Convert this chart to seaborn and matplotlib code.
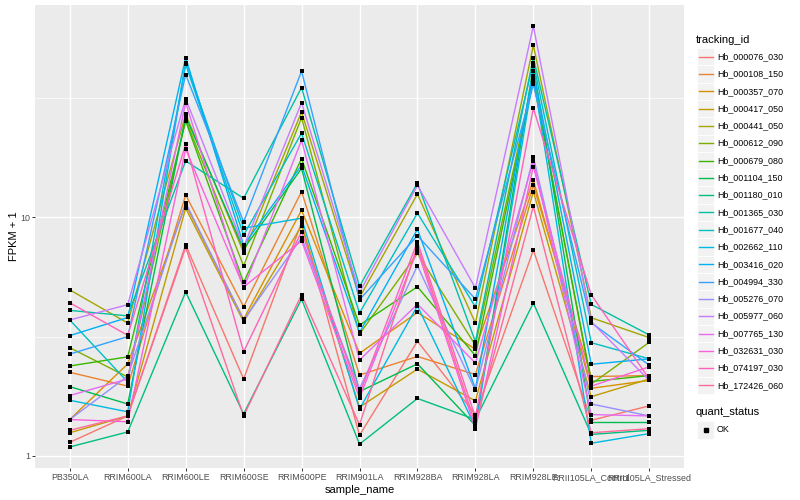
import numpy as np
import pandas as pd
import matplotlib
matplotlib.use("Agg")
import matplotlib.pyplot as plt
import seaborn as sns
from matplotlib.ticker import FixedLocator, FixedFormatter, NullFormatter
from matplotlib.patches import Rectangle
from matplotlib.lines import Line2D

# ---------------- data ----------------
sample_names = ["PB350LA", "RRIM600LA", "RRIM600LE", "RRIM600SE", "RRIM600PE",
                "RRIM901LA", "RRIM928BA", "RRIM928LA", "RRIM928LE",
                "RRII105LA_Control", "RRII105LA_Stressed"]

tracking_ids = ["Hb_000076_030", "Hb_000108_150", "Hb_000357_070", "Hb_000417_050",
                "Hb_000441_050", "Hb_000612_090", "Hb_000679_080", "Hb_001104_150",
                "Hb_001180_010", "Hb_001365_030", "Hb_001677_040", "Hb_002662_110",
                "Hb_003416_020", "Hb_004994_330", "Hb_005276_070", "Hb_005977_060",
                "Hb_007765_130", "Hb_032631_030", "Hb_074197_030", "Hb_172426_060"]

# FPKM + 1 per sample, in tracking_ids order
pb350la   = [1.14, 2.24, 1.42, 1.25, 4.96, 2.84, 2.38, 1.95, 1.09, 4.07, 3.71, 1.71, 3.19, 2.67, 1.42, 3.71, 1.79, 1.42, 4.38, 1.28]
rrim600la = [1.47, 1.96, 2.43, 1.47, 3.60, 2.14, 2.60, 1.65, 1.26, 3.86, 2.04, 1.53, 3.80, 3.16, 2.16, 4.30, 2.10, 1.39, 3.20, 1.47]
rrim600le = [7.66, 12.4, 11.3, 10.9, 27.0, 25.7, 25.3, 26.4, 4.86, 17.2, 43.7, 44.4, 46.6, 39.6, 11.5, 31.4, 30.2, 19.3, 20.2, 7.47]
rrim600se = [2.10, 4.22, 3.74, 3.65, 7.11, 6.25, 5.33, 7.35, 1.50, 12.0, 8.41, 9.00, 7.63, 9.56, 3.70, 7.50, 5.03, 5.10, 2.73, 1.47]
rrim600pe = [9.50, 12.8, 10.7, 9.20, 27.6, 26.1, 17.6, 16.0, 4.54, 34.9, 22.5, 9.90, 16.5, 40.9, 8.20, 30.2, 21.0, 7.96, 8.70, 4.73]
rrim901la = [1.22, 2.18, 2.69, 1.60, 4.61, 3.24, 3.53, 1.86, 1.12, 5.13, 3.97, 1.57, 3.29, 4.51, 1.91, 4.84, 2.52, 1.75, 1.82, 1.35]
rrim928ba = [3.02, 2.61, 3.99, 2.31, 12.5, 7.05, 5.11, 2.43, 1.74, 13.9, 10.4, 4.25, 8.90, 8.36, 6.26, 13.6, 4.32, 7.30, 7.89, 7.59]
rrim928la = [1.49, 2.19, 2.80, 1.70, 3.60, 2.91, 2.63, 1.34, 1.42, 3.01, 4.21, 1.32, 1.91, 4.54, 1.88, 5.05, 2.45, 1.30, 1.45, 1.36]
rrim928le = [7.28, 13.6, 14.3, 12.8, 52.5, 38.4, 37.2, 42.9, 4.37, 46.6, 44.4, 39.0, 41.0, 36.0, 17.9, 63.2, 17.2, 16.3, 28.6, 11.1]
rrii105la_control  = [1.41, 2.15, 1.92, 1.77, 3.79, 2.00, 2.05, 1.38, 1.23, 4.31, 2.98, 1.13, 2.42, 3.61, 1.65, 3.65, 1.49, 1.96, 4.73, 1.25]
rrii105la_stressed = [1.62, 2.17, 2.07, 2.10, 3.13, 2.99, 2.17, 1.38, 1.28, 3.21, 2.55, 1.24, 2.55, 2.40, 1.47, 2.07, 1.47, 2.36, 2.10, 1.30]

sample_values = [pb350la, rrim600la, rrim600le, rrim600se, rrim600pe, rrim901la,
                 rrim928ba, rrim928la, rrim928le, rrii105la_control, rrii105la_stressed]

quant_status = "OK"

# ---------------- ggplot hue palette ----------------
def hcl_to_hex(h, c, l):
    hr = np.deg2rad(h)
    u, v = c * np.cos(hr), c * np.sin(hr)
    Xn, Yn, Zn = 0.95047, 1.0, 1.08883
    den = Xn + 15 * Yn + 3 * Zn
    un, vn = 4 * Xn / den, 9 * Yn / den
    Y = Yn * ((l + 16) / 116) ** 3
    up, vp = u / (13 * l) + un, v / (13 * l) + vn
    X = Y * 9 * up / (4 * vp)
    Z = Y * (12 - 3 * up - 20 * vp) / (4 * vp)
    M = np.array([[3.2404542, -1.5371385, -0.4985314],
                  [-0.9692660, 1.8760108, 0.0415560],
                  [0.0556434, -0.2040259, 1.0572252]])
    lin = M @ np.array([X, Y, Z])
    rgb = np.where(lin <= 0.0031308, 12.92 * lin, 1.055 * np.abs(lin) ** (1 / 2.4) - 0.055)
    rgb = np.clip(rgb, 0, 1)
    return matplotlib.colors.to_hex(rgb)

n = len(tracking_ids)
hues = np.linspace(15, 375, n + 1)[:n]
colors = [hcl_to_hex(h, 100, 65) for h in hues]
palette = dict(zip(tracking_ids, colors))

# ---------------- long table ----------------
rows = []
for si, (s, vals) in enumerate(zip(sample_names, sample_values)):
    for tid, v in zip(tracking_ids, vals):
        rows.append({"sample_name": s, "xpos": si, "tracking_id": tid,
                     "fpkm": v, "quant_status": quant_status})
df = pd.DataFrame(rows)

# ---------------- figure ----------------
FONT = "Liberation Sans"
plt.rcParams["font.family"] = [FONT, "DejaVu Sans"]

fig = plt.figure(figsize=(8, 5), dpi=100)
W, H = 800, 500
ax = fig.add_axes([35 / W, (H - 468) / H, 649 / W, 463 / H])
ax.set_facecolor("#EBEBEB")
for sp in ax.spines.values():
    sp.set_visible(False)

sns.lineplot(data=df, x="xpos", y="fpkm", hue="tracking_id", hue_order=tracking_ids,
             palette=palette, estimator=None, sort=False, legend=False,
             linewidth=1.0, ax=ax, zorder=3)
sns.scatterplot(data=df, x="xpos", y="fpkm", color="black", marker="s", s=8,
                linewidth=0, legend=False, ax=ax, zorder=4)

ax.set_yscale("log")
lo = np.log10(df["fpkm"].min())
hi = np.log10(df["fpkm"].max())
pad = 0.05 * (hi - lo)
ax.set_ylim(10 ** (lo - pad), 10 ** (hi + pad))
ax.set_xlim(-0.6, len(sample_names) - 1 + 0.6)

ax.yaxis.set_major_locator(FixedLocator([1, 10]))
ax.yaxis.set_major_formatter(FixedFormatter(["1", "10"]))
ax.yaxis.set_minor_locator(FixedLocator([10 ** 0.5, 10 ** 1.5]))
ax.yaxis.set_minor_formatter(NullFormatter())
ax.set_xticks(range(len(sample_names)))
ax.set_xticklabels(sample_names)

ax.grid(which="major", color="white", linewidth=1.0, zorder=0)
ax.grid(which="minor", axis="y", color="white", linewidth=0.5, zorder=0)
ax.set_axisbelow(True)
ax.tick_params(which="major", length=2.0, width=0.7, color="#333333",
               labelsize=6.4, labelcolor="#4D4D4D", pad=1.6)
ax.tick_params(which="minor", length=0)

ax.set_xlabel("sample_name", fontsize=8, color="black", labelpad=2.5)
ax.set_ylabel("FPKM + 1", fontsize=8, color="black", labelpad=0.8)

# ---------------- legends (ggplot-style keys) ----------------
key_bg = "#F2F2F2"
KX0, KW, KH = 697, 17.3, 17.3
TXT_X = 717

def fx(px):
    return px / W

def fy(py):
    return 1 - py / H

def add_key(cy, line_color=None, marker=False):
    fig.add_artist(Rectangle((fx(KX0), fy(cy + KH / 2)), KW / W, KH / H,
                             transform=fig.transFigure, facecolor=key_bg,
                             edgecolor="white", linewidth=0.6))
    if line_color is not None:
        fig.add_artist(Line2D([fx(KX0 + 1.7), fx(KX0 + KW - 1.7)], [fy(cy), fy(cy)],
                              transform=fig.transFigure, color=line_color, linewidth=1.0))
    if marker:
        fig.add_artist(Line2D([fx(KX0 + KW / 2)], [fy(cy)], transform=fig.transFigure,
                              color="black", marker="s", markersize=2.8, linestyle="none"))

fig.text(fx(696), fy(40), "tracking_id", fontsize=8, va="center", ha="left", color="black")
for i, (tid, c) in enumerate(zip(tracking_ids, colors)):
    cy = 56.7 + KH * i
    add_key(cy, line_color=c)
    fig.text(fx(TXT_X), fy(cy), tid, fontsize=6.4, va="center", ha="left", color="black")

fig.text(fx(696), fy(412), "quant_status", fontsize=8, va="center", ha="left", color="black")
add_key(430, marker=True)
fig.text(fx(TXT_X), fy(430), quant_status, fontsize=6.4, va="center", ha="left", color="black")

fig.savefig("out.png", dpi=100)
